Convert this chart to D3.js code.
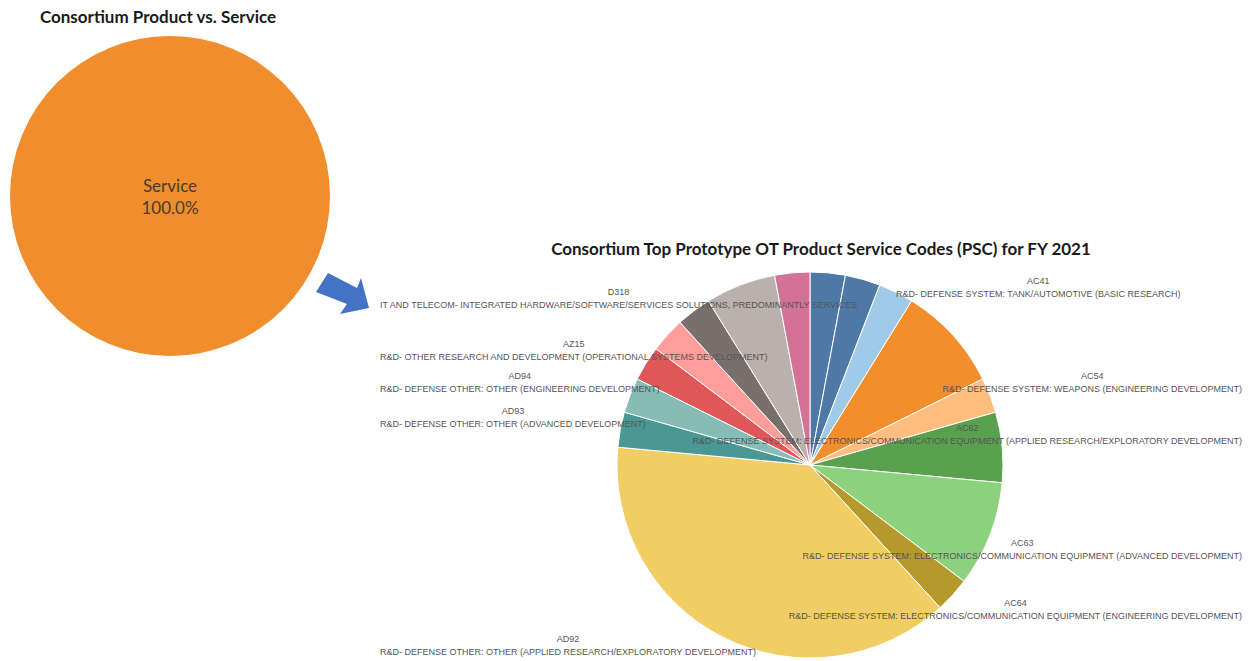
<!DOCTYPE html>
<html>
<head>
<meta charset="utf-8">
<script src="https://cdn.jsdelivr.net/npm/d3@7"></script>
<style>
  html, body { margin: 0; padding: 0; background: #fff; }
  svg { display: block; }
</style>
</head>
<body>
<svg id="chart" width="1250" height="661"></svg>
<script>
// Consortium product vs. service split
const psCategories = ["Service"];
const psValues = [100];

// Top prototype OT PSCs for FY 2021 (award counts, clockwise from 12 o'clock)
const pscCodes = ["", "", "AC41", "", "AC54", "AC62", "AC63", "AC64", "AD92", "AD93", "AD94", "AZ15", "", "D318", "", ""];
const pscNames = [
  "", "",
  "R&D- DEFENSE SYSTEM: TANK/AUTOMOTIVE (BASIC RESEARCH)",
  "",
  "R&D- DEFENSE SYSTEM: WEAPONS (ENGINEERING DEVELOPMENT)",
  "R&D- DEFENSE SYSTEM: ELECTRONICS/COMMUNICATION EQUIPMENT (APPLIED RESEARCH/EXPLORATORY DEVELOPMENT)",
  "R&D- DEFENSE SYSTEM: ELECTRONICS/COMMUNICATION EQUIPMENT (ADVANCED DEVELOPMENT)",
  "R&D- DEFENSE SYSTEM: ELECTRONICS/COMMUNICATION EQUIPMENT (ENGINEERING DEVELOPMENT)",
  "R&D- DEFENSE OTHER: OTHER (APPLIED RESEARCH/EXPLORATORY DEVELOPMENT)",
  "R&D- DEFENSE OTHER: OTHER (ADVANCED DEVELOPMENT)",
  "R&D- DEFENSE OTHER: OTHER (ENGINEERING DEVELOPMENT)",
  "R&D- OTHER RESEARCH AND DEVELOPMENT (OPERATIONAL SYSTEMS DEVELOPMENT)",
  "",
  "IT AND TELECOM- INTEGRATED HARDWARE/SOFTWARE/SERVICES SOLUTIONS, PREDOMINANTLY SERVICES",
  "", ""
];
const pscCounts = [1, 1, 1, 3, 1, 2, 3, 1, 13, 1, 1, 1, 1, 1, 2, 1];
const pscGroup  = [0, 0, 1, 2, 3, 4, 5, 6, 7, 8, 9, 10, 11, 12, 13, 14];

// Tableau 20 palette
const tableau20 = ["#4e79a7", "#a0cbe8", "#f28e2b", "#ffbe7d", "#59a14f", "#8cd17d", "#b6992d",
  "#f1ce63", "#499894", "#86bcb6", "#e15759", "#ff9d9a", "#79706e", "#bab0ac", "#d37295"];

const svg = d3.select("#chart");
const titleFont = "Lato, 'Open Sans', sans-serif";
const labelFont = "'Liberation Sans', Arial, sans-serif";

// ---------- Left pie: product vs. service ----------
const left = { cx: 170, cy: 196, r: 160 };
svg.append("text")
  .attr("x", 158).attr("y", 23)
  .attr("text-anchor", "middle")
  .style("font-family", titleFont).style("font-weight", 700).style("font-size", "17px")
  .style("fill", "#1a1a1a")
  .text("Consortium Product vs. Service");

const psData = psCategories.map((c, i) => ({ name: c, value: psValues[i] }));
const psTotal = d3.sum(psData, d => d.value);
const psPie = d3.pie().value(d => d.value).sort(null)(psData);
const gLeft = svg.append("g").attr("transform", `translate(${left.cx},${left.cy})`);
gLeft.selectAll("path").data(psPie).join("path")
  .attr("d", d3.arc().innerRadius(0).outerRadius(left.r))
  .attr("fill", "#f08e2d");
const fmtPct = d3.format(".1%");
psPie.forEach(d => {
  const t = gLeft.append("text").attr("text-anchor", "middle")
    .style("font-family", titleFont).style("font-size", "17px").style("fill", "#4a3a2a");
  t.append("tspan").attr("x", 0).attr("y", -4).text(d.data.name);
  t.append("tspan").attr("x", 0).attr("y", 18).text(fmtPct(d.data.value / psTotal));
});

// Connector arrow
svg.append("path")
  .attr("d", "M328,273 L357,288 L361,278 L369,308 L340,314 L347,304 L316,292 Z")
  .attr("fill", "#4472c4");

// ---------- Right pie: PSC breakdown ----------
const right = { cx: 810, cy: 465, r: 193, minX: 380, maxX: 1242, minY: 278, maxY: 657 };
svg.append("text")
  .attr("x", 821).attr("y", 255)
  .attr("text-anchor", "middle")
  .style("font-family", titleFont).style("font-weight", 700).style("font-size", "17px")
  .style("fill", "#1a1a1a")
  .text("Consortium Top Prototype OT Product Service Codes (PSC) for FY 2021");

const pscData = pscCounts.map((v, i) => ({ code: pscCodes[i], name: pscNames[i], value: v, group: pscGroup[i] }));
const color = d3.scaleOrdinal().domain(d3.range(tableau20.length)).range(tableau20);
const pscPie = d3.pie().value(d => d.value).sort(null)(pscData);
const arc = d3.arc().innerRadius(0).outerRadius(right.r);
const gRight = svg.append("g").attr("transform", `translate(${right.cx},${right.cy})`);
gRight.selectAll("path").data(pscPie).join("path")
  .attr("d", arc)
  .attr("fill", d => color(d.data.group))
  .attr("stroke", "#fff").attr("stroke-width", 1);

// Labels: anchored at the outer edge of each slice's mid-angle, kept inside the panel
const lineGap = 13;
const labelLayer = svg.append("g");
pscPie.filter(d => d.data.code).forEach(d => {
  const a = (d.startAngle + d.endAngle) / 2;
  const px = right.cx + right.r * Math.sin(a);
  const py = right.cy - right.r * Math.cos(a);
  const g = labelLayer.append("g")
    .style("font-family", labelFont).style("font-size", "9px").style("fill", "#555");
  const t1 = g.append("text").attr("text-anchor", "middle").text(d.data.code);
  const t2 = g.append("text").attr("text-anchor", "middle").text(d.data.name);
  const w = Math.max(t1.node().getComputedTextLength(), t2.node().getComputedTextLength());
  let cx = Math.sin(a) >= 0 ? px + w / 2 : px - w / 2;
  cx = Math.max(right.minX + w / 2, Math.min(right.maxX - w / 2, cx));
  let codeBase = Math.cos(a) > 0 ? py - 3 - lineGap : py + 11;
  codeBase = Math.max(right.minY + 6, Math.min(right.maxY - 2 - lineGap, codeBase));
  t1.attr("x", cx).attr("y", codeBase);
  t2.attr("x", cx).attr("y", codeBase + lineGap);
});
</script>
</body>
</html>
